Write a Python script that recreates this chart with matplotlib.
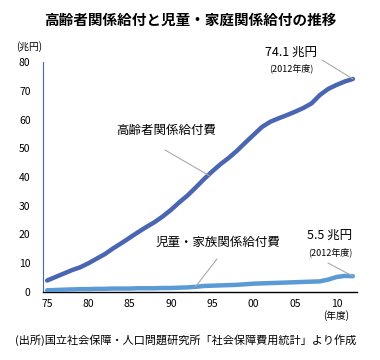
import matplotlib
matplotlib.use("Agg")
import matplotlib.pyplot as plt

plt.rcParams['font.family'] = ['Noto Sans CJK JP', 'DejaVu Sans']

years = list(range(1975, 2013))
elderly = [4.0, 5.2, 6.4, 7.6, 8.6, 10.0, 11.6, 13.2, 15.2, 17.0, 18.9, 20.8, 22.6, 24.3, 26.3,
           28.6, 31.2, 33.6, 36.4, 39.3, 42.0, 44.5, 46.7, 49.2, 52.0, 54.7, 57.4, 59.2, 60.4,
           61.5, 62.7, 64.0, 65.6, 68.5, 70.6, 72.0, 73.2, 74.1]
children = [0.6, 0.7, 0.8, 0.9, 1.0, 1.0, 1.1, 1.1, 1.2, 1.2, 1.2, 1.3, 1.3, 1.3, 1.4,
            1.4, 1.5, 1.6, 1.8, 2.1, 2.2, 2.3, 2.4, 2.5, 2.7, 2.9, 3.0, 3.1, 3.2,
            3.3, 3.4, 3.5, 3.6, 3.7, 4.3, 5.2, 5.6, 5.5]
xticks = [1975, 1980, 1985, 1990, 1995, 2000, 2005, 2010]
xticklabels = ['75', '80', '85', '90', '95', '00', '05', '10']
yticks = [0, 10, 20, 30, 40, 50, 60, 70, 80]

W, H = 380, 360
fig = plt.figure(figsize=(W / 100, H / 100), dpi=100)

def fx(px):
    return px / W

def fy(py):
    return 1 - py / H

ax = fig.add_axes([fx(43), fy(292), fx(357) - fx(43), fy(62) - fy(292)])
ax.plot(years, elderly, color='#4a65b1', lw=3.2, solid_capstyle='round', zorder=3)
ax.plot(years, children, color='#5b9bd5', lw=3.2, solid_capstyle='round', zorder=3)

ax.set_xlim(1974.5, 2012.5)
ax.set_ylim(0, 80)
ax.set_xticks(xticks)
ax.set_xticklabels(xticklabels)
ax.set_yticks(yticks)
ax.tick_params(length=0, labelsize=7.5)
ax.tick_params(axis='x', pad=5)
ax.tick_params(axis='y', pad=9)
for s in ['top', 'right']:
    ax.spines[s].set_visible(False)
ax.spines['left'].set_color('#4a65b1')
ax.spines['left'].set_linewidth(0.8)
ax.spines['bottom'].set_color('black')
ax.spines['bottom'].set_linewidth(1.0)

fig.text(fx(190), fy(20), '高齢者関係給付と児童・家庭関係給付の推移', ha='center', va='center',
         fontsize=10.5, fontweight='bold')
fig.text(fx(29), fy(47), '(兆円)', ha='center', va='center', fontsize=7)
fig.text(fx(336), fy(316), '(年度)', ha='center', va='center', fontsize=7)
fig.text(fx(186), fy(340), '(出所)国立社会保障・人口問題研究所「社会保障費用統計」より作成',
         ha='center', va='center', fontsize=8)

fig.text(fx(291), fy(52), '74.1 兆円', ha='center', va='center', fontsize=9)
fig.text(fx(291), fy(68), '(2012年度)', ha='center', va='center', fontsize=6.5)
fig.text(fx(166), fy(130), '高齢者関係給付費', ha='center', va='center', fontsize=9)
fig.text(fx(218), fy(242), '児童・家族関係給付費', ha='center', va='center', fontsize=9)
fig.text(fx(330), fy(235), '5.5 兆円', ha='center', va='center', fontsize=9)
fig.text(fx(330), fy(252), '(2012年度)', ha='center', va='center', fontsize=6.5)

lc = dict(arrowstyle='-', color='#aaaaaa', lw=0.8, shrinkA=0, shrinkB=0)
ax.annotate('', xy=(years[-1], elderly[-1]), xytext=(322, H - 60),
            textcoords='figure pixels', arrowprops=lc)
ax.annotate('', xy=(1994.6, 40.5), xytext=(165, H - 150),
            textcoords='figure pixels', arrowprops=lc)
ax.annotate('', xy=(1993.0, 2.0), xytext=(217, H - 259),
            textcoords='figure pixels', arrowprops=lc)
ax.annotate('', xy=(years[-1], children[-1]), xytext=(328, H - 263),
            textcoords='figure pixels', arrowprops=lc)

fig.savefig('out.png', dpi=100)
